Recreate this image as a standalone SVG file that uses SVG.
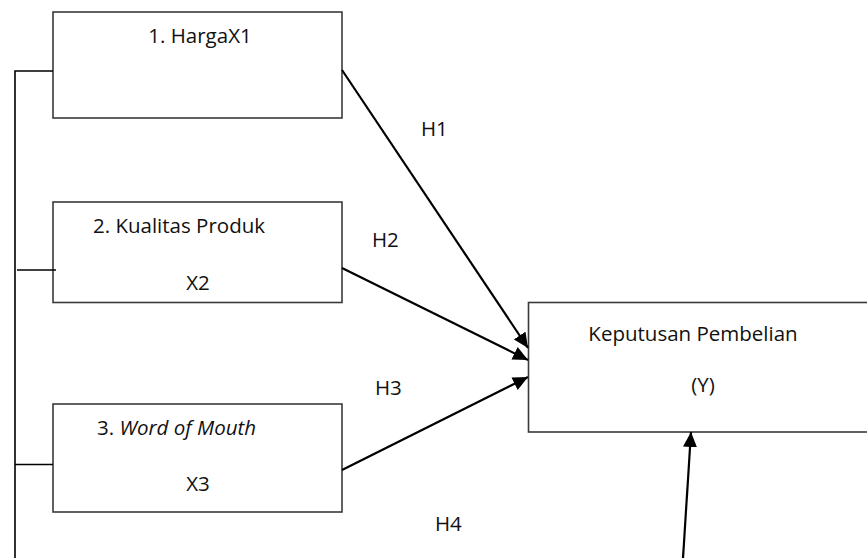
<svg xmlns="http://www.w3.org/2000/svg" width="867" height="558" viewBox="0 0 867 558">
<style>
.box{fill:#fff;stroke:#3a3a3a;stroke-width:1.6}
.t{font-family:"Open Sans","Liberation Sans",sans-serif;font-size:20.5px;fill:#111}
.c{text-anchor:middle}
.ln{stroke:#000;stroke-width:1.6;fill:none}
.ar{stroke:#000;stroke-width:2.2;fill:none;marker-end:url(#ah)}
</style>
<defs>
<marker id="ah" markerUnits="userSpaceOnUse" markerWidth="16" markerHeight="14" refX="15" refY="7" orient="auto">
<path d="M0,0 L15,7 L0,14 z" fill="#000"/>
</marker>
</defs>
<rect width="867" height="558" fill="#fff"/>
<g id="x1">
<rect class="box" x="53" y="12" width="289" height="106"/>
<text class="t c" x="200" y="43">1. HargaX1</text>
</g>
<g id="x2">
<rect class="box" x="53" y="202" width="289" height="100.5"/>
<text class="t" x="93" y="233">2. Kualitas Produk</text>
<text class="t c" x="198" y="290">X2</text>
</g>
<g id="x3">
<rect class="box" x="53" y="404" width="289" height="108"/>
<text class="t" x="97" y="435">3. <tspan font-style="italic">Word of Mouth</tspan></text>
<text class="t c" x="198" y="491">X3</text>
</g>
<g id="y">
<rect class="box" x="528.5" y="302.5" width="345" height="129.5"/>
<text class="t c" x="693" y="341">Keputusan Pembelian</text>
<text class="t c" x="703" y="392">(Y)</text>
</g>
<g id="connectors">
<polyline class="ln" points="53,71 15,71 15,558"/>
<line class="ln" x1="17" y1="270" x2="56" y2="270"/>
<line class="ln" x1="15" y1="464.5" x2="53" y2="464.5"/>
<line class="ar" x1="342" y1="70" x2="528" y2="348"/>
<line class="ar" x1="342" y1="268" x2="528" y2="360"/>
<line class="ar" x1="342" y1="470" x2="528" y2="377"/>
<line class="ar" x1="683" y1="558" x2="691" y2="432"/>
</g>
<g id="labels">
<text class="t" x="421" y="136">H1</text>
<text class="t" x="372" y="247">H2</text>
<text class="t" x="375" y="395">H3</text>
<text class="t" x="435" y="531">H4</text>
</g>
</svg>
